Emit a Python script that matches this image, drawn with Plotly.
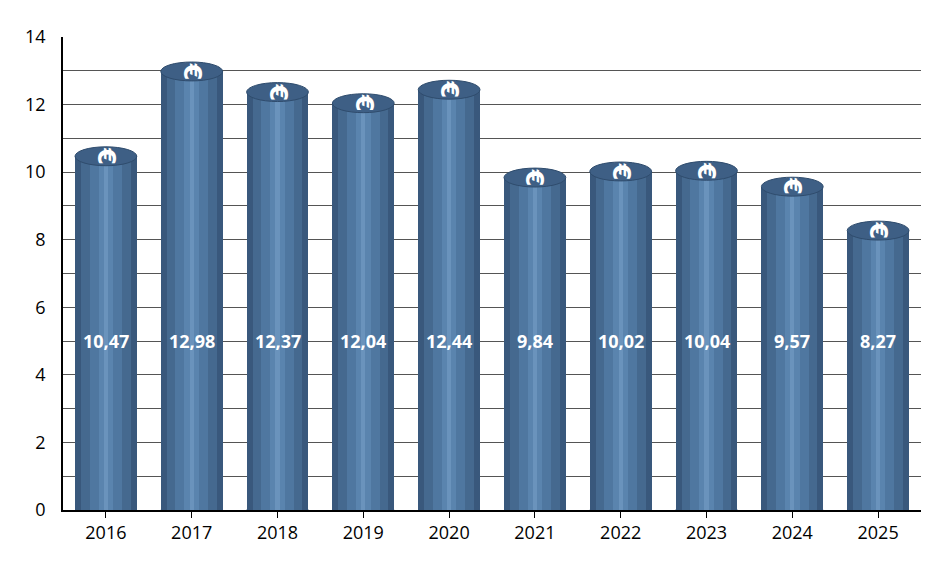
import plotly.graph_objects as go

years = ["2016","2017","2018","2019","2020","2021","2022","2023","2024","2025"]
values = [10.47, 12.98, 12.37, 12.04, 12.44, 9.84, 10.02, 10.04, 9.57, 8.27]
labels = ["10,47","12,98","12,37","12,04","12,44","9,84","10,02","10,04","9,57","8,27"]

fig = go.Figure()
layers = [(0.72, "#39587c"), (0.58, "#45698f"), (0.38, "#4f77a0"), (0.17, "#5a84ae"), (0.05, "#6a93bc")]
for w, c in layers:
    fig.add_trace(go.Bar(x=list(range(len(years))), y=values, width=w, marker=dict(color=c, line_width=0),
                         hoverinfo="skip", showlegend=False))

shapes = []
annots = []
for i, v in enumerate(values):
    shapes.append(dict(type="circle", xref="x", yref="y", x0=i-0.36, x1=i+0.36, y0=v-0.28, y1=v+0.28,
                       fillcolor="#3e5f85", line=dict(color="#2f4c6d", width=1), layer="above"))
    shapes.append(dict(type="circle", xref="x", yref="y", x0=i-0.36, x1=i+0.36, y0=-0.28, y1=0.28,
                       fillcolor="#39587c", line=dict(width=0), layer="below"))
    annots.append(dict(x=i, y=v, text="<b>€</b>", showarrow=False, font=dict(color="white", size=24, family="DejaVu Sans"),
                       textangle=90))
    annots.append(dict(x=i, y=5, text="<b>%s</b>" % labels[i], showarrow=False,
                       font=dict(color="white", size=18, family="Open Sans")))

fig.update_layout(
    width=952, height=571, barmode="overlay", bargap=0,
    plot_bgcolor="white", paper_bgcolor="white",
    margin=dict(l=55, r=39, t=29, b=69),
    shapes=shapes, annotations=annots,
    font=dict(family="Open Sans", size=18, color="black"),
    xaxis=dict(tickmode="array", tickvals=list(range(len(years))), ticktext=years, range=[-0.5, 9.5],
               showline=True, linecolor="black", linewidth=1.5, ticks="outside", tickson="boundaries",
               ticklen=6, tickcolor="black", showgrid=False),
    yaxis=dict(range=[0, 14], dtick=2, showline=True, linecolor="black", linewidth=1.5,
               showgrid=True, gridcolor="#555555", gridwidth=1, zeroline=False, ticks="",
               ticklabelstandoff=12,
               minor=dict(dtick=1, showgrid=True, gridcolor="#555555", gridwidth=1)),
)
fig.write_html("out.html")
